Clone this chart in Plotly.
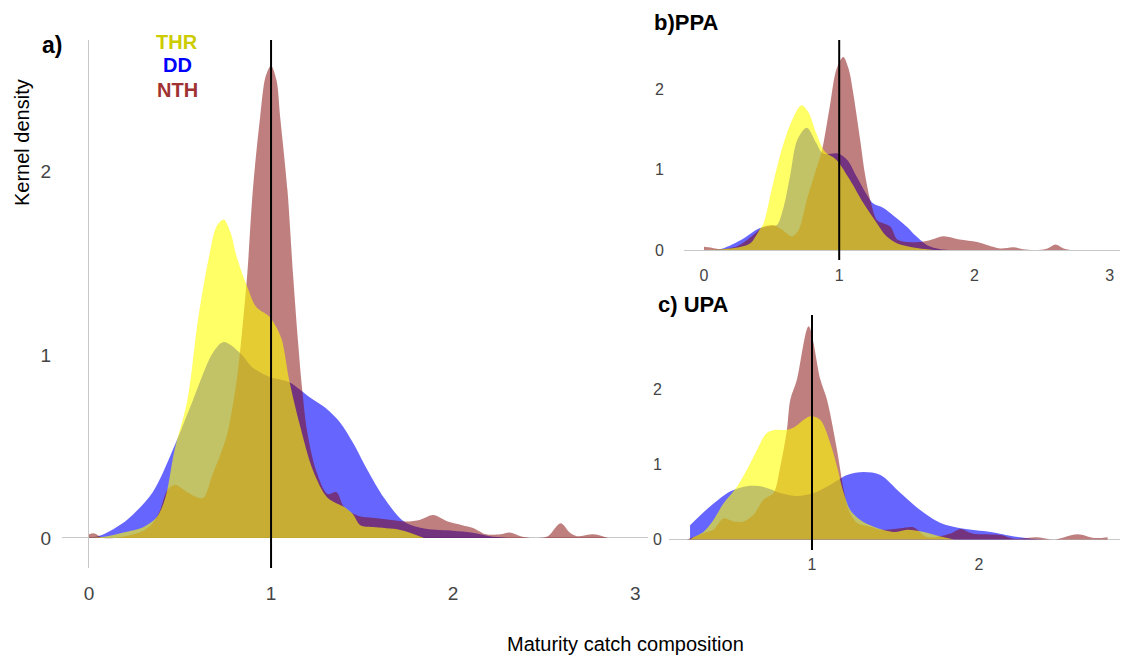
import plotly.graph_objects as go

# ---------------- data ----------------
# Panel a) all areas
a_thr_x = [0.00, 0.10, 0.19, 0.30, 0.37, 0.41, 0.43, 0.47, 0.54, 0.60, 0.66, 0.70, 0.74, 0.78, 0.81, 0.87, 0.92, 0.99, 1.03, 1.06, 1.10, 1.16, 1.23, 1.31, 1.40, 1.45, 1.49, 1.56, 1.71, 1.84]
a_thr_y = [0.00, 0.01, 0.03, 0.06, 0.11, 0.19, 0.26, 0.48, 0.75, 1.20, 1.54, 1.70, 1.74, 1.66, 1.54, 1.37, 1.26, 1.21, 1.15, 1.08, 0.86, 0.61, 0.37, 0.22, 0.17, 0.13, 0.07, 0.06, 0.044, 0.00]

a_dd_x = [0.00, 0.05, 0.10, 0.21, 0.35, 0.46, 0.57, 0.68, 0.74, 0.83, 0.90, 0.99, 1.10, 1.21, 1.30, 1.38, 1.45, 1.53, 1.62, 1.73, 1.85, 2.00, 2.10, 2.20, 2.30]
a_dd_y = [0.00, 0.01, 0.03, 0.10, 0.25, 0.48, 0.75, 1.01, 1.07, 1.01, 0.93, 0.88, 0.85, 0.77, 0.71, 0.63, 0.52, 0.37, 0.22, 0.09, 0.05, 0.04, 0.03, 0.01, 0.00]

a_nth_x = [0.00, 0.03, 0.08, 0.20, 0.30, 0.35, 0.39, 0.43, 0.47, 0.54, 0.60, 0.63, 0.68, 0.72, 0.76, 0.81, 0.84, 0.87, 0.90, 0.94, 0.97, 1.00, 1.03, 1.05, 1.09, 1.12, 1.15, 1.17, 1.20, 1.25, 1.31, 1.36, 1.40, 1.48, 1.56, 1.65, 1.74, 1.82, 1.89, 1.97, 2.05, 2.11, 2.18, 2.26, 2.31, 2.37, 2.44, 2.52, 2.59, 2.64, 2.68, 2.77, 2.85]
a_nth_y = [0.02, 0.025, 0.00, 0.01, 0.04, 0.08, 0.15, 0.26, 0.29, 0.25, 0.22, 0.22, 0.35, 0.45, 0.57, 0.85, 1.12, 1.45, 1.90, 2.30, 2.52, 2.58, 2.50, 2.30, 1.90, 1.45, 1.05, 0.82, 0.57, 0.36, 0.24, 0.25, 0.17, 0.12, 0.11, 0.10, 0.09, 0.10, 0.125, 0.09, 0.07, 0.055, 0.02, 0.02, 0.03, 0.01, 0.00, 0.01, 0.08, 0.03, 0.01, 0.02, 0.00]

# Panel b) PPA
b_thr_x = [0.00, 0.14, 0.25, 0.34, 0.41, 0.44, 0.50, 0.56, 0.64, 0.72, 0.77, 0.83, 0.895, 0.98, 1.08, 1.18, 1.28, 1.35, 1.43, 1.55, 1.70]
b_thr_y = [0.00, 0.01, 0.03, 0.08, 0.25, 0.33, 0.75, 1.16, 1.57, 1.80, 1.72, 1.45, 1.22, 1.12, 0.87, 0.58, 0.33, 0.17, 0.08, 0.03, 0.00]

b_dd_x = [0.05, 0.14, 0.27, 0.41, 0.50, 0.54, 0.59, 0.64, 0.69, 0.76, 0.83, 0.88, 0.99, 1.06, 1.13, 1.20, 1.25, 1.33, 1.40, 1.50, 1.57, 1.65, 1.75, 1.85]
b_dd_y = [0.00, 0.02, 0.12, 0.27, 0.30, 0.31, 0.54, 0.95, 1.37, 1.52, 1.33, 1.20, 1.20, 1.12, 0.91, 0.70, 0.58, 0.52, 0.43, 0.29, 0.17, 0.06, 0.01, 0.00]

b_nth_x = [0.00, 0.05, 0.11, 0.18, 0.25, 0.36, 0.44, 0.51, 0.58, 0.65, 0.70, 0.76, 0.82, 0.87, 0.93, 0.98, 1.03, 1.07, 1.10, 1.155, 1.19, 1.23, 1.28, 1.33, 1.38, 1.43, 1.50, 1.60, 1.67, 1.77, 1.89, 2.02, 2.10, 2.19, 2.29, 2.36, 2.45, 2.54, 2.60, 2.66, 2.71]
b_nth_y = [0.04, 0.03, 0.01, 0.02, 0.05, 0.18, 0.29, 0.31, 0.25, 0.17, 0.25, 0.62, 0.95, 1.22, 1.78, 2.25, 2.40, 2.25, 1.99, 1.37, 0.95, 0.62, 0.37, 0.33, 0.29, 0.13, 0.10, 0.10, 0.12, 0.17, 0.13, 0.10, 0.06, 0.02, 0.035, 0.01, 0.00, 0.02, 0.07, 0.02, 0.00]

# Panel c) UPA
c_thr_x = [0.27, 0.29, 0.35, 0.41, 0.47, 0.55, 0.61, 0.67, 0.73, 0.79, 0.85, 0.89, 0.99, 1.05, 1.11, 1.15, 1.19, 1.23, 1.29, 1.37, 1.49, 1.57, 1.67, 1.77, 1.85]
c_thr_y = [0.00, 0.03, 0.10, 0.26, 0.48, 0.70, 0.93, 1.19, 1.42, 1.46, 1.46, 1.49, 1.64, 1.59, 1.28, 0.97, 0.62, 0.39, 0.26, 0.17, 0.10, 0.13, 0.10, 0.04, 0.00]

c_dd_x = [0.27, 0.39, 0.51, 0.61, 0.71, 0.81, 0.91, 1.01, 1.11, 1.21, 1.31, 1.41, 1.53, 1.65, 1.77, 1.89, 2.07, 2.21, 2.31, 2.40]
c_dd_y = [0.19, 0.44, 0.64, 0.71, 0.70, 0.62, 0.58, 0.62, 0.73, 0.86, 0.90, 0.86, 0.62, 0.39, 0.22, 0.15, 0.10, 0.04, 0.01, 0.00]

c_nth_x = [0.25, 0.30, 0.37, 0.41, 0.47, 0.53, 0.59, 0.65, 0.71, 0.77, 0.81, 0.85, 0.87, 0.91, 0.98, 1.05, 1.09, 1.15, 1.19, 1.22, 1.27, 1.35, 1.41, 1.53, 1.61, 1.69, 1.83, 1.89, 1.96, 2.13, 2.21, 2.35, 2.45, 2.59, 2.69, 2.77]
c_nth_y = [0.00, 0.04, 0.10, 0.13, 0.28, 0.24, 0.24, 0.33, 0.53, 0.62, 0.97, 1.46, 1.86, 2.13, 2.84, 2.13, 1.86, 1.19, 0.66, 0.39, 0.22, 0.17, 0.13, 0.15, 0.16, 0.03, 0.08, 0.14, 0.08, 0.06, 0.01, 0.03, 0.00, 0.07, 0.02, 0.03]

x_ticks = [0, 1, 2, 3]
y_ticks = [0, 1, 2]
ref_x = 1.0

series_names = ["DD", "NTH", "THR"]
fills = {"DD": "rgba(0,0,255,0.6)", "NTH": "rgba(128,0,0,0.5)", "THR": "rgba(255,255,0,0.6)"}
text_cols = {"THR": "#cccc00", "DD": "#0000ff", "NTH": "#a03232"}

panels = [
    ("x", "y", {"DD": (a_dd_x, a_dd_y), "NTH": (a_nth_x, a_nth_y), "THR": (a_thr_x, a_thr_y)}),
    ("x2", "y2", {"DD": (b_dd_x, b_dd_y), "NTH": (b_nth_x, b_nth_y), "THR": (b_thr_x, b_thr_y)}),
    ("x3", "y3", {"DD": (c_dd_x, c_dd_y), "NTH": (c_nth_x, c_nth_y), "THR": (c_thr_x, c_thr_y)}),
]

FONT = "Liberation Sans Narrow, Arial Narrow, Liberation Sans, Arial, sans-serif"
W, H = 1121, 657

fig = go.Figure()
for xa, ya, d in panels:
    for name in series_names:
        xs, ys = d[name]
        fig.add_trace(go.Scatter(
            x=xs, y=ys, xaxis=xa, yaxis=ya, mode="lines", name=name,
            line=dict(width=0, shape="spline", smoothing=0.9),
            fill="tozeroy", fillcolor=fills[name], showlegend=False, hoverinfo="skip"))

def px_x(p):
    return p / W

def px_y(p):
    return 1 - p / H

tickfont_a = dict(family=FONT, size=19, color="#444444")
tickfont_bc = dict(family=FONT, size=16, color="#444444")
common = dict(showgrid=False, showline=False, ticks="", fixedrange=True)

fig.update_layout(
    width=W, height=H, margin=dict(l=0, r=0, t=0, b=0),
    paper_bgcolor="white", plot_bgcolor="white",
    xaxis=dict(domain=[px_x(62), px_x(648)], range=[-0.148, 3.07], tickvals=x_ticks,
               zeroline=True, zerolinecolor="#c8c8c8", zerolinewidth=1,
               tickfont=tickfont_a, ticklabelstandoff=12, anchor="y", **common),
    yaxis=dict(domain=[px_y(568), px_y(40)], range=[-0.164, 2.72], tickvals=y_ticks,
               zeroline=True, zerolinecolor="#c8c8c8", zerolinewidth=1,
               tickfont=tickfont_a, ticklabelstandoff=10, anchor="x", **common),
    xaxis2=dict(domain=[px_x(684), px_x(1120)], range=[-0.148, 3.077], tickvals=x_ticks,
                zeroline=False, tickfont=tickfont_bc, ticklabelstandoff=4, anchor="y2", **common),
    yaxis2=dict(domain=[px_y(260), px_y(40)], range=[-0.124, 2.61], tickvals=y_ticks,
                zeroline=True, zerolinecolor="#c8c8c8", zerolinewidth=1,
                tickfont=tickfont_bc, ticklabelstandoff=19, anchor="x2", **common),
    xaxis3=dict(domain=[px_x(669), px_x(1120)], range=[0.144, 2.844], tickvals=x_ticks,
                zeroline=False, tickfont=tickfont_bc, ticklabelstandoff=3, anchor="y3", **common),
    yaxis3=dict(domain=[px_y(550), px_y(315)], range=[-0.14, 2.99], tickvals=y_ticks,
                zeroline=True, zerolinecolor="#c8c8c8", zerolinewidth=1,
                tickfont=tickfont_bc, ticklabelstandoff=6, anchor="x3", **common),
)

# reference vertical lines at x = 1
for xa, ya, _ in panels:
    fig.add_shape(type="line", xref=xa, yref=ya + " domain", x0=ref_x, x1=ref_x, y0=0, y1=1,
                  line=dict(color="black", width=2), layer="above")

ann = []
def text(t, x, y, size, color="black", bold=False, angle=0, xanchor="center"):
    ann.append(dict(text=("<b>%s</b>" % t) if bold else t, xref="paper", yref="paper",
                    x=px_x(x), y=px_y(y), xanchor=xanchor, yanchor="middle", showarrow=False,
                    textangle=angle, font=dict(family=FONT, size=size, color=color)))

text("a)", 40, 45, 23, bold=True, xanchor="left")
text("b)PPA", 652, 23, 22, bold=True, xanchor="left")
text("c) UPA", 656, 304, 22, bold=True, xanchor="left")
text("THR", 177, 42, 20, color=text_cols["THR"], bold=True)
text("DD", 177, 65, 20, color=text_cols["DD"], bold=True)
text("NTH", 177, 90, 20, color=text_cols["NTH"], bold=True)
text("Maturity catch composition", 625, 644, 20)
text("Kernel density", 22, 143, 20, angle=-90)
fig.update_layout(annotations=ann)

fig.write_html("out.html", config={"displayModeBar": False},
               post_script="document.body.style.margin='0';document.body.style.overflow='hidden';")
